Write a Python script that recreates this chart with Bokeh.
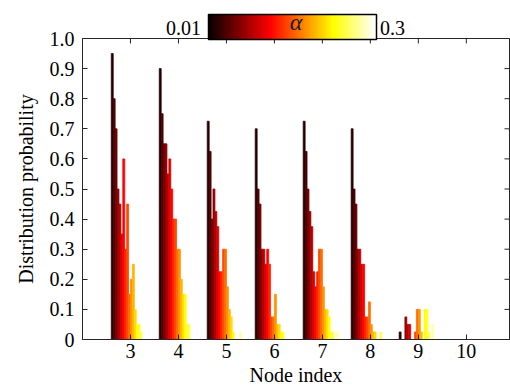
import math
from bokeh.plotting import figure
from bokeh.models import (ColumnDataSource, LinearAxis, FixedTicker, Span, Range1d,
                          ColorBar, LinearColorMapper)
from bokeh.embed import file_html
from bokeh.resources import INLINE

# ---------------- data ----------------
nodes = [3, 4, 5, 6, 7, 8, 9, 10]
n_alpha = 20
alpha_min, alpha_max = 0.01, 0.3

prob_n3 = [0.95, 0.80, 0.70, 0.50, 0.45, 0.35, 0.60, 0.30, 0.45, 0.15,
           0.20, 0.25, 0.10, 0.05, 0.05, 0.025, 0.0, 0.0, 0.0, 0.0]
prob_n4 = [0.90, 0.75, 0.65, 0.65, 0.55, 0.60, 0.50, 0.40, 0.40, 0.30,
           0.30, 0.20, 0.15, 0.15, 0.05, 0.05, 0.0, 0.0, 0.0, 0.0]
prob_n5 = [0.725, 0.625, 0.40, 0.50, 0.425, 0.375, 0.225, 0.225, 0.30, 0.30,
           0.175, 0.10, 0.075, 0.025, 0.0, 0.0, 0.0, 0.025, 0.0, 0.0]
prob_n6 = [0.70, 0.50, 0.45, 0.30, 0.30, 0.25, 0.30, 0.25, 0.075, 0.075,
           0.15, 0.05, 0.05, 0.025, 0.025, 0.0, 0.0, 0.0, 0.0, 0.0]
prob_n7 = [0.725, 0.625, 0.50, 0.425, 0.375, 0.225, 0.175, 0.225, 0.30, 0.30,
           0.175, 0.10, 0.10, 0.075, 0.025, 0.025, 0.0, 0.025, 0.025, 0.0]
prob_n8 = [0.70, 0.50, 0.45, 0.30, 0.30, 0.25, 0.25, 0.075, 0.075, 0.125,
           0.05, 0.025, 0.025, 0.0, 0.0, 0.025, 0.0, 0.0, 0.0, 0.0]
prob_n9 = [0.025, 0.0, 0.0, 0.075, 0.05, 0.05, 0.0, 0.0, 0.025, 0.10,
           0.10, 0.025, 0.0, 0.10, 0.10, 0.025, 0.0, 0.05, 0.0, 0.0]
prob_n10 = [0.0] * 20

y_ticks = [0, 0.1, 0.2, 0.3, 0.4, 0.5, 0.6, 0.7, 0.8, 0.9, 1.0]
y_tick_labels = {0: "0", 1: "1.0"}

probs = [prob_n3, prob_n4, prob_n5, prob_n6, prob_n7, prob_n8, prob_n9, prob_n10]


# MATLAB-style "hot" colormap
def hot(m):
    n = int(3 * m / 8)
    cols = []
    for i in range(m):
        r = min((i + 1) / n, 1.0)
        g = 0.0 if i < n else min((i - n + 1) / n, 1.0)
        b = 0.0 if i < 2 * n else (i - 2 * n + 1) / (m - 2 * n)
        cols.append("#%02x%02x%02x" % (round(255 * r), round(255 * g), round(255 * b)))
    return cols


palette = hot(n_alpha)
cbar_palette = hot(64)

FONT = "'Liberation Serif', 'Times New Roman', Times, serif"
FRAME = "#262626"

# ---------------- layout constants (pixels) ----------------
W, H = 510, 390
FL, FR, FT, FB = 82, 1, 38, 51          # borders around the plot frame
CB_LEFT, CB_W, CB_H = 208, 168, 25       # colour bar position / size
frame_w = W - FL - FR

# ---------------- bars ----------------
group_w = 0.8
bw = group_w / n_alpha
xs, tops, colors = [], [], []
for node, pr in zip(nodes, probs):
    for k, v in enumerate(pr):
        xs.append(node - group_w / 2 + bw * (k + 0.5))
        tops.append(v)
        colors.append(palette[k])
src = ColumnDataSource(dict(x=xs, top=tops, color=colors))

x_start, x_end = 2.0, 10.9
y_start, y_end = 0.0, 1.0

# extra x-range in alpha units, so the colour bar spans alpha_min..alpha_max
kpx = CB_W / (alpha_max - alpha_min)                     # pixels per alpha unit
cb_start = alpha_min - (CB_LEFT - FL) / kpx
cb_end = cb_start + frame_w / kpx

p = figure(width=W, height=H, x_range=Range1d(x_start, x_end),
           y_range=Range1d(y_start, y_end), title=None,
           output_backend="svg", toolbar_location=None,
           min_border_left=FL, min_border_right=FR, min_border_top=FT,
           min_border_bottom=FB)
p.extra_x_ranges = {"cb": Range1d(cb_start, cb_end)}
p.background_fill_color = "white"
p.border_fill_color = "white"
p.outline_line_color = FRAME
p.outline_line_width = 1
p.xgrid.visible = False
p.ygrid.visible = False

p.add_layout(Span(location=0, dimension="width", line_color="black",
                  line_width=1, level="underlay"))

p.vbar(x="x", top="top", bottom=0, width=bw, source=src,
       fill_color="color", line_color="color", line_width=0.8)

# mirrored inward ticks on the top and right edges
p.scatter(x=nodes, y=[y_end] * len(nodes), marker="dash", angle=math.pi / 2,
          size=10, line_color=FRAME, line_width=1)
p.scatter(x=[x_end] * len(y_ticks), y=y_ticks, marker="dash",
          size=10, line_color=FRAME, line_width=1)

xa = p.xaxis[0]
xa.ticker = FixedTicker(ticks=nodes)
xa.axis_label = "Node index"
ya = p.yaxis[0]
ya.ticker = FixedTicker(ticks=y_ticks)
ya.major_label_overrides = y_tick_labels
ya.axis_label = "Distribution probability"

for ax in (xa, ya):
    ax.major_tick_in = 5
    ax.major_tick_out = 0
    ax.minor_tick_line_color = None
    ax.axis_line_color = FRAME
    ax.major_tick_line_color = FRAME
    ax.major_label_text_font = FONT
    ax.major_label_text_font_size = "20px"
    ax.major_label_text_color = "black"
    ax.axis_label_text_font = FONT
    ax.axis_label_text_font_size = "20px"
    ax.axis_label_text_font_style = "normal"
    ax.axis_label_text_color = "black"
xa.major_label_standoff = 4
xa.axis_label_standoff = 3
ya.major_label_standoff = 8
ya.axis_label_standoff = 10

# ---------------- colour bar ----------------
mapper = LinearColorMapper(palette=cbar_palette, low=alpha_min, high=alpha_max)
cb = ColorBar(color_mapper=mapper, orientation="horizontal",
              location=(CB_LEFT - FL, H - FT - FB - 1),
              width=CB_W, height=CB_H, padding=0, ticker=FixedTicker(ticks=[]),
              major_tick_line_color=None, minor_tick_line_color=None,
              major_label_text_font_size="0px", label_standoff=0, major_tick_out=0,
              bar_line_color="black", bar_line_width=1.5,
              border_line_color=None, background_fill_color=None, level="guide")
p.add_layout(cb, "center")

# colour bar end labels and alpha symbol via a top axis on the alpha range
t_lo = alpha_min - 25.0 / kpx
t_hi = alpha_max + 16.0 / kpx
top_ax = LinearAxis(x_range_name="cb", ticker=FixedTicker(ticks=[t_lo, t_hi]),
                    major_label_overrides={t_lo: str(alpha_min), t_hi: str(alpha_max)},
                    axis_label="α", level="overlay")
top_ax.axis_line_color = None
top_ax.major_tick_line_color = None
top_ax.minor_tick_line_color = None
top_ax.major_tick_in = 0
top_ax.major_tick_out = 0
top_ax.major_label_standoff = 4
top_ax.major_label_text_font = FONT
top_ax.major_label_text_font_size = "20px"
top_ax.major_label_text_color = "black"
top_ax.axis_label_text_font = FONT
top_ax.axis_label_text_font_size = "24px"
top_ax.axis_label_text_font_style = "italic"
top_ax.axis_label_text_color = "#1a1a1a"
top_ax.axis_label_standoff = -17
p.add_layout(top_ax, "above")

open("out.html", "w").write(file_html(p, INLINE))
